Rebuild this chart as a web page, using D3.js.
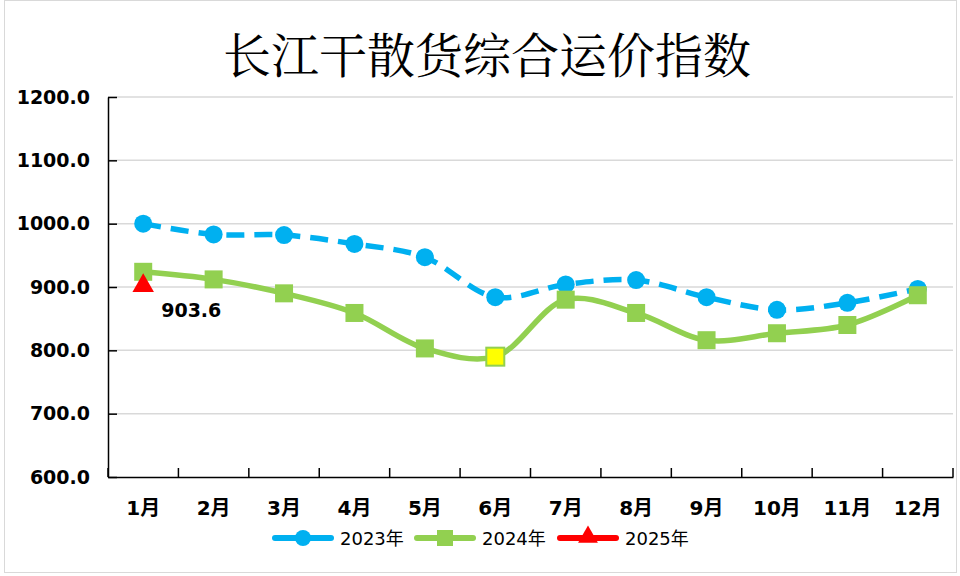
<!DOCTYPE html>
<html><head><meta charset="utf-8">
<script src="https://cdn.jsdelivr.net/npm/d3@7"></script>
<style>body{margin:0;background:#fff}svg{display:block}</style>
</head><body>
<svg id="c" width="960" height="576"></svg>
<script>
const months = ["1月","2月","3月","4月","5月","6月","7月","8月","9月","10月","11月","12月"];
const s2023 = [1000, 983, 982, 968, 947, 884, 904, 911, 884, 864, 875, 897];
const s2024 = [924, 912, 890, 859, 803, 790, 880, 859, 816, 827, 840, 887];
const s2025 = [903.6];
const yTicks = [600, 700, 800, 900, 1000, 1100, 1200];
const title = "长江干散货综合运价指数";
const seriesNames = ["2023年", "2024年", "2025年"];

const svg = d3.select("#c");
const L = 108, R = 953, T = 97, B = 477;
const x = d3.scaleBand().domain(months).range([L, R]);
const y = d3.scaleLinear().domain([600, 1200]).range([B, T]);
const cx = m => x(m) + x.bandwidth() / 2;
const boldFont = "DejaVu Sans, Noto Sans CJK SC";

svg.append("rect").attr("x", 4.5).attr("y", 0.5).attr("width", 952).attr("height", 572)
  .attr("fill", "#fff").attr("stroke", "#d9d9d9");

svg.append("text").attr("x", 487).attr("y", 73).attr("text-anchor", "middle")
  .attr("font-family", "Noto Serif CJK SC, Noto Sans CJK SC").attr("font-size", 48).attr("font-weight", 400)
  .attr("fill", "#000").text(title);

// grid
svg.append("g").selectAll("line").data(yTicks.slice(1)).join("line")
  .attr("x1", L).attr("x2", R).attr("y1", d => y(d)).attr("y2", d => y(d))
  .attr("stroke", "#d9d9d9").attr("stroke-width", 1.5);

// y axis (ticks inside)
const ya = svg.append("g").attr("transform", `translate(${L},0)`)
  .call(d3.axisLeft(y).tickValues(yTicks).tickFormat(d3.format(".1f")).tickSizeInner(-9).tickSizeOuter(0).tickPadding(18));
ya.select(".domain").attr("stroke", "#000").attr("stroke-width", 1.5);
ya.selectAll(".tick line").attr("stroke", "#000").attr("stroke-width", 1.5);
ya.selectAll("text").attr("font-family", boldFont).attr("font-weight", "bold")
  .attr("font-size", 19).attr("fill", "#000").attr("x", -18);

// x axis
const xa = svg.append("g").attr("transform", `translate(0,${B})`)
  .call(d3.axisBottom(x).tickSize(0).tickPadding(24));
xa.select(".domain").attr("stroke", "#000").attr("stroke-width", 1.5);
xa.selectAll("text").attr("font-family", boldFont).attr("font-weight", "bold")
  .attr("font-size", 20).attr("fill", "#000");
svg.append("g").selectAll("line").data(months.map(m => x(m)).concat([R])).join("line")
  .attr("x1", d => d).attr("x2", d => d).attr("y1", B).attr("y2", B - 9)
  .attr("stroke", "#000").attr("stroke-width", 1.5);

const blue = "#00B0F0", green = "#92D050", red = "#FF0000";
const curve = d3.curveCatmullRom.alpha(0.5);
const line = d3.line().x((d, i) => cx(months[i])).y(d => y(d)).curve(curve);

svg.append("path").attr("d", line(s2023)).attr("fill", "none").attr("stroke", blue)
  .attr("stroke-width", 5.5).attr("stroke-dasharray", "18,10");
svg.append("g").selectAll("circle").data(s2023).join("circle")
  .attr("cx", (d, i) => cx(months[i])).attr("cy", d => y(d)).attr("r", 9).attr("fill", blue);

svg.append("path").attr("d", line(s2024)).attr("fill", "none").attr("stroke", green)
  .attr("stroke-width", 5.5);
svg.append("g").selectAll("rect").data(s2024).join("rect")
  .attr("x", (d, i) => cx(months[i]) - 9).attr("y", d => y(d) - 9)
  .attr("width", 18).attr("height", 18)
  .attr("fill", (d, i) => i === 5 ? "#FFFF00" : green)
  .attr("stroke", green).attr("stroke-width", (d, i) => i === 5 ? 2 : 0);

const tri = d3.symbol().type(d3.symbolTriangle).size(200);
svg.append("g").selectAll("path").data(s2025).join("path")
  .attr("transform", (d, i) => `translate(${cx(months[i])},${y(d) + 1})`)
  .attr("d", tri).attr("fill", red);
svg.append("g").selectAll("text").data(s2025).join("text")
  .attr("x", (d, i) => cx(months[i]) + 18).attr("y", d => y(d) + 32)
  .attr("font-family", boldFont).attr("font-weight", "bold")
  .attr("font-size", 19).attr("fill", "#000").text(d => d.toFixed(1));

// legend
const lg = svg.append("g").attr("transform", "translate(0,538)");
const items = [
  {name: seriesNames[0], color: blue, x0: 275, type: "c"},
  {name: seriesNames[1], color: green, x0: 417, type: "s"},
  {name: seriesNames[2], color: red, x0: 560, type: "t"}
];
items.forEach(it => {
  lg.append("line").attr("x1", it.x0).attr("x2", it.x0 + 56).attr("stroke", it.color)
    .attr("stroke-width", 6).attr("stroke-linecap", "round");
  const mx = it.x0 + 28;
  if (it.type === "c") lg.append("circle").attr("cx", mx).attr("r", 8).attr("fill", it.color);
  else if (it.type === "s") lg.append("rect").attr("x", mx - 8).attr("y", -8).attr("width", 16).attr("height", 16).attr("fill", it.color);
  else lg.append("path").attr("transform", `translate(${mx},-1)`).attr("d", d3.symbol().type(d3.symbolTriangle).size(170)()).attr("fill", it.color);
  lg.append("text").attr("x", it.x0 + 65).attr("y", 7).attr("font-family", "DejaVu Sans, Noto Sans CJK SC")
    .attr("font-size", 18).attr("fill", "#000").text(it.name);
});
</script>
</body></html>
